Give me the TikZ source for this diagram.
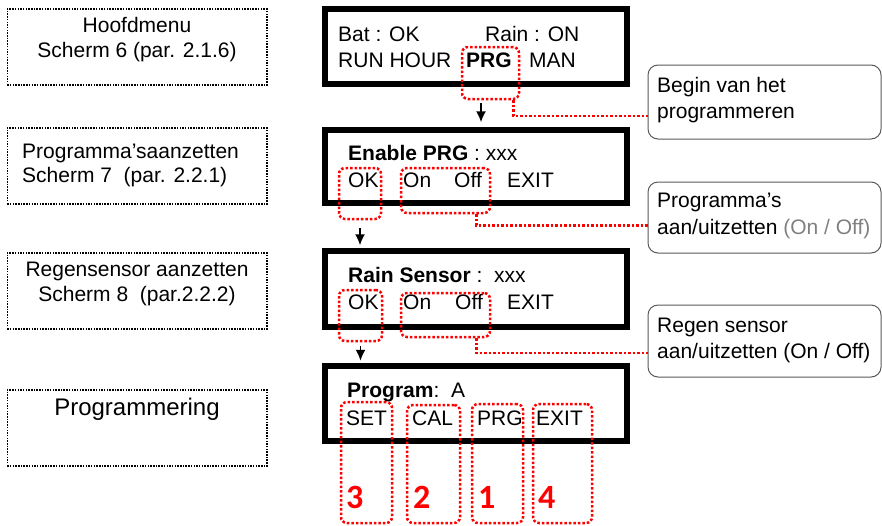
\documentclass[tikz,border=0pt]{standalone}
\usepackage{fontspec}
\setmainfont{Liberation Sans}
\newfontfamily\numfont{Carlito}
\usetikzlibrary{arrows.meta}

\begin{document}
\begin{tikzpicture}
        [
        x=1pt, y=-1pt,
        every node/.style={font=\fontsize{21}{25}\selectfont},
        txt/.style={anchor=base west, inner sep=0pt},
        mid/.style={anchor=base, inner sep=0pt},
        info/.style={draw, line width=1.5pt, dash pattern=on 1.5pt off 1.2pt, minimum width=259.5pt, minimum height=76pt, inner sep=0pt},
        lcd/.style={draw, line width=5.5pt, minimum width=302pt, inner sep=0pt},
        hilite/.style={draw=red, line width=2.5pt, dash pattern=on 2.5pt off 2pt, rounded corners=6pt, inner sep=0pt},
        note/.style={draw=black!65, line width=1pt, rounded corners=10pt, minimum width=233pt, inner sep=0pt},
        num/.style={anchor=base west, inner sep=0pt, text=red, font=\numfont\bfseries\fontsize{34}{34}\selectfont},
        edge/.style={-{Latex[length=11pt,width=10pt]}, line width=1.6pt},
        link/.style={red, line width=2.5pt, dash pattern=on 2.5pt off 2pt}
        ]
    \useasboundingbox (0,0) rectangle (882,525);

    % left column
    \node[info] (l1) at (137,47) {};
    \node[mid] (l1a) at (137,32) {Hoofdmenu};
    \node[mid] (l1b) at (137,57) {Scherm 6 (par. 2.1.6)};
    \node[info] (l2) at (137,166) {};
    \node[txt] (l2a) at (22,158) {Programma'saanzetten};
    \node[txt] (l2b) at (22,182) {Scherm 7\ \ (par. 2.2.1)};
    \node[info] (l3) at (137,291) {};
    \node[mid] (l3a) at (137,276) {Regensensor aanzetten};
    \node[mid] (l3b) at (137,301) {Scherm 8\ \ (par.2.2.2)};
    \node[info] (l4) at (137,428) {};
    \node[mid, font=\fontsize{24}{28}\selectfont] (l4a) at (137,415) {Programmering};

    % screens
    \node[lcd, minimum height=75pt] (scr1) at (476,46.5) {};
    \node[txt] (s1a) at (338,41) {Bat : OK};
    \node[txt] (s1b) at (485,41) {Rain : ON};
    \node[txt] (s1c) at (338,67) {RUN HOUR};
    \node[txt] (s1d) at (466,67) {\bfseries PRG};
    \node[txt] (s1e) at (529,67) {MAN};

    \node[lcd, minimum height=73pt] (scr2) at (476,166.5) {};
    \node[txt] (s2a) at (348,160) {\textbf{Enable PRG} : xxx};
    \node[txt] (s2b) at (348,187) {OK};
    \node[txt] (s2c) at (403,187) {On};
    \node[txt] (s2d) at (454,187) {Off};
    \node[txt] (s2e) at (507,187) {EXIT};

    \node[lcd, minimum height=76pt] (scr3) at (476,289) {};
    \node[txt] (s3a) at (348,282) {\textbf{Rain Sensor} :\ \ xxx};
    \node[txt] (s3b) at (348,309) {OK};
    \node[txt] (s3c) at (403,309) {On};
    \node[txt] (s3d) at (455,309) {Off};
    \node[txt] (s3e) at (507,309) {EXIT};

    \node[lcd, minimum height=75pt] (scr4) at (476,403.5) {};
    \node[txt] (s4a) at (347,397) {\textbf{Program}:\ \ A};
    \node[txt] (s4b) at (346,425) {SET};
    \node[txt] (s4c) at (412,425) {CAL};
    \node[txt] (s4d) at (477,425) {PRG};
    \node[txt] (s4e) at (536,425) {EXIT};

    % red marks
    \node[hilite, minimum width=57pt, minimum height=52pt] (r1) at (490.5,73) {};
    \node[hilite, minimum width=42pt, minimum height=51pt] (r2) at (360,193.5) {};
    \node[hilite, minimum width=89pt, minimum height=45pt] (r3) at (445.5,190.5) {};
    \node[hilite, minimum width=43pt, minimum height=51pt] (r4) at (360.5,315.5) {};
    \node[hilite, minimum width=89pt, minimum height=44pt] (r5) at (445.5,315) {};
    \node[hilite, minimum width=51pt, minimum height=121pt] (r6) at (366.5,462.5) {};
    \node[hilite, minimum width=53pt, minimum height=118pt] (r7) at (433.5,464) {};
    \node[hilite, minimum width=51pt, minimum height=119pt] (r8) at (497.5,463.5) {};
    \node[hilite, minimum width=59pt, minimum height=119pt] (r9) at (562.5,463.5) {};
    \node[num] (n3) at (346,508) {3};
    \node[num] (n2) at (413,508) {2};
    \node[num] (n1) at (478,508) {1};
    \node[num] (n4) at (538,508) {4};

    % callouts
    \node[note, minimum height=74pt] (c1) at (764.5,102) {};
    \node[txt] (c1a) at (657,92) {Begin van het};
    \node[txt] (c1b) at (657,118) {programmeren};
    \node[note, minimum height=71pt] (c2) at (764.5,217.5) {};
    \node[txt] (c2a) at (657,207) {Programma's};
    \node[txt] (c2b) at (657,234) {aan/uitzetten \textcolor{gray}{(On / Off)}};
    \node[note, minimum height=72pt] (c3) at (764.5,341) {};
    \node[txt] (c3a) at (657,332) {Regen sensor};
    \node[txt] (c3b) at (657,358) {aan/uitzetten (On / Off)};

    \draw[link] ([xshift=-7pt]r1.south east) |- ([yshift=-14pt]c1.west);
    \draw[link] ([xshift=-15pt]r3.south east) |- ([yshift=-8pt]c2.west);
    \draw[link] ([xshift=-15pt]r5.south east) |- ([yshift=-12pt]c3.west);

    \coordinate (p1) at ([xshift=-9.5pt]r1.south);
    \draw[edge, shorten <=3pt, shorten >=5pt] (p1) -- (p1 |- scr2.north);
    \draw[edge, shorten <=8pt, shorten >=3pt] (r2.south) -- (r2.south |- scr3.north);
    \draw[edge, shorten <=4pt, shorten >=2.5pt] (r4.south) -- (r4.south |- scr4.north);
    \end{tikzpicture}
\end{document}
